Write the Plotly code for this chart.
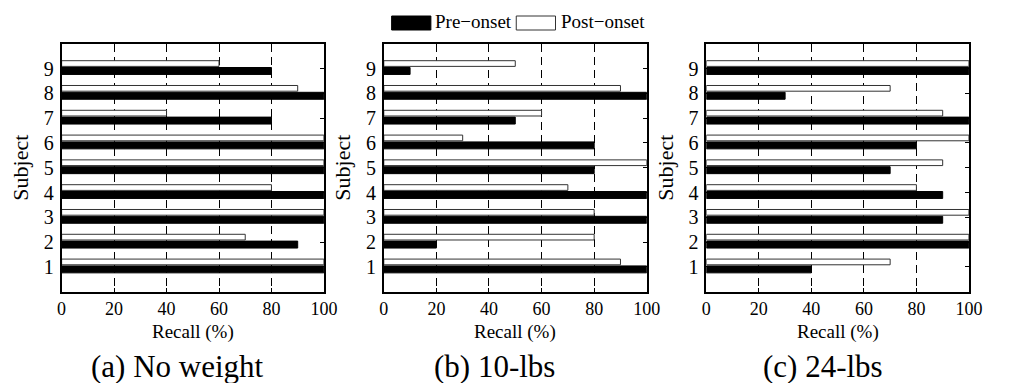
import plotly.graph_objects as go

subjects = [1, 2, 3, 4, 5, 6, 7, 8, 9]
panel_titles = ["(a) No weight", "(b) 10-lbs", "(c) 24-lbs"]
pre_no_weight = [100, 90, 100, 100, 100, 100, 80, 100, 80]
post_no_weight = [100, 70, 100, 80, 100, 100, 40, 90, 60]
pre_10lbs = [100, 20, 100, 100, 80, 80, 50, 100, 10]
post_10lbs = [90, 80, 80, 70, 100, 30, 60, 90, 50]
pre_24lbs = [40, 100, 90, 90, 70, 80, 100, 30, 100]
post_24lbs = [70, 100, 100, 80, 90, 100, 90, 70, 100]
x_ticks = [0, 20, 40, 60, 80, 100]
legend_names = ["Pre\u2212onset", "Post\u2212onset"]

W, H = 1016, 383
FONT = "'Liberation Serif', 'Times New Roman', 'DejaVu Serif', serif"

panels = [(pre_no_weight, post_no_weight), (pre_10lbs, post_10lbs), (pre_24lbs, post_24lbs)]
x_px = [(57.7, 325.0), (386.0, 654.0), (714.7, 982.3)]
y_px = (43.7, 291.7)
title_cx = [175.5, 498.5, 833.5]

fig = go.Figure()
for i, (pre, post) in enumerate(panels):
    ax = "" if i == 0 else str(i + 1)
    fig.add_trace(go.Bar(
        y=subjects, x=pre, orientation="h", name=legend_names[0],
        width=0.28, offset=-0.24,
        marker=dict(color="black", line=dict(color="black", width=1)),
        xaxis="x" + ax, yaxis="y" + ax, showlegend=False))
    fig.add_trace(go.Bar(
        y=subjects, x=post, orientation="h", name=legend_names[1],
        width=0.23, offset=0.085,
        marker=dict(color="white", line=dict(color="#333333", width=1)),
        xaxis="x" + ax, yaxis="y" + ax, showlegend=False))

    xd = [x_px[i][0] / W, x_px[i][1] / W]
    yd = [1 - y_px[1] / H, 1 - y_px[0] / H]
    axis_common = dict(showline=True, linecolor="black", linewidth=1.5, mirror="ticks",
                       ticks="inside", ticklen=4, tickcolor="black", zeroline=False)
    fig.update_layout(**{
        "xaxis" + ax: dict(domain=xd, range=[0, 100], tickvals=x_ticks,
                           tickfont=dict(family=FONT, size=18, color="black"),
                           showgrid=True, gridcolor="black", gridwidth=1, griddash="8px,5px",
                           anchor="y" + ax, **axis_common),
        "yaxis" + ax: dict(domain=yd, range=[0, 10], tickvals=subjects, showgrid=False,
                           tickfont=dict(family=FONT, size=20, color="black"),
                           ticklabelstandoff=2,
                           title=dict(text="Subject", font=dict(family=FONT, size=22, color="black"), standoff=9),
                           anchor="x" + ax, **axis_common),
    })
    fig.add_annotation(text="Recall (%)", x=(x_px[i][0] + x_px[i][1]) / 2 / W, y=1 - 332 / H,
                       xref="paper", yref="paper", showarrow=False, xanchor="center", yanchor="middle",
                       font=dict(family=FONT, size=19, color="black"))
    fig.add_annotation(text=panel_titles[i], x=title_cx[i] / W, y=1 - 366 / H, xref="paper", yref="paper",
                       showarrow=False, xanchor="center", yanchor="middle",
                       font=dict(family=FONT, size=31, color="black"))

# legend drawn manually
fig.add_shape(type="rect", xref="paper", yref="paper", x0=394 / W, x1=434 / W, y0=1 - 30 / H, y1=1 - 16 / H,
              fillcolor="black", line=dict(color="black", width=1))
fig.add_shape(type="rect", xref="paper", yref="paper", x0=521 / W, x1=561 / W, y0=1 - 30 / H, y1=1 - 16 / H,
              fillcolor="white", line=dict(color="#333333", width=1))
fig.add_annotation(text=legend_names[0], x=436 / W, y=1 - 22 / H, xref="paper", yref="paper", showarrow=False,
                   xanchor="left", yanchor="middle", font=dict(family=FONT, size=19, color="black"))
fig.add_annotation(text=legend_names[1], x=565 / W, y=1 - 22 / H, xref="paper", yref="paper", showarrow=False,
                   xanchor="left", yanchor="middle", font=dict(family=FONT, size=19, color="black"))

fig.update_layout(width=W, height=H, margin=dict(l=0, r=0, t=0, b=0), barmode="overlay",
                  plot_bgcolor="white", paper_bgcolor="white", showlegend=False,
                  font=dict(family=FONT, color="black"))
fig.write_html("out.html")
